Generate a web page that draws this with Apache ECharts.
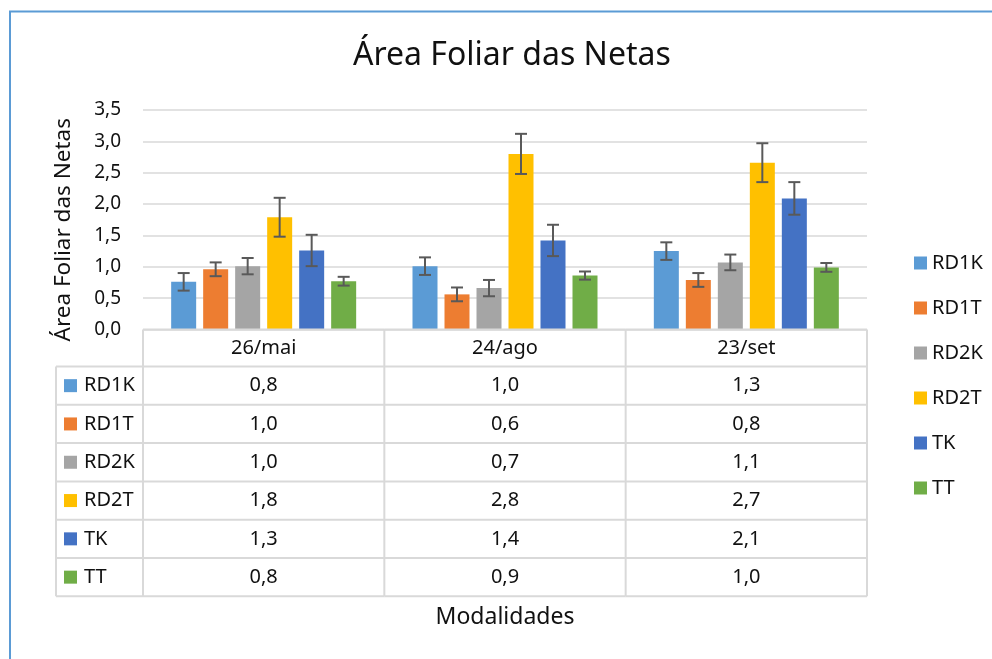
<!DOCTYPE html>
<html>
<head>
<meta charset="utf-8">
<script src="https://cdn.jsdelivr.net/npm/echarts@6/dist/echarts.min.js"></script>
<style>
  html, body { margin: 0; padding: 0; background: #fff; }
  #chart { width: 992px; height: 659px; }
</style>
</head>
<body>
<div id="chart"></div>
<script>
const categories = ['26/mai', '24/ago', '23/set'];
const seriesNames = ['RD1K', 'RD1T', 'RD2K', 'RD2T', 'TK', 'TT'];
const colors = ['#5b9bd5', '#ed7d31', '#a5a5a5', '#ffc000', '#4472c4', '#70ad47'];

const rd1k = [0.76, 1.01, 1.25];
const rd1t = [0.96, 0.56, 0.79];
const rd2k = [1.01, 0.66, 1.07];
const rd2t = [1.79, 2.80, 2.66];
const tk   = [1.26, 1.42, 2.09];
const tt   = [0.77, 0.86, 0.99];

const rd1kErr = [0.14, 0.14, 0.14];
const rd1tErr = [0.11, 0.11, 0.11];
const rd2kErr = [0.13, 0.13, 0.125];
const rd2tErr = [0.31, 0.32, 0.31];
const tkErr   = [0.25, 0.25, 0.26];
const ttErr   = [0.07, 0.065, 0.07];

const yTicks = [0, 0.5, 1, 1.5, 2, 2.5, 3, 3.5];

const values = [rd1k, rd1t, rd2k, rd2t, tk, tt];
const errors = [rd1kErr, rd1tErr, rd2kErr, rd2tErr, tkErr, ttErr];

const FONT = 'Noto Sans';
const BAR_W = 25;
const BAR_STEP = 32;
const HEADER_H = 37;
const ROW_H = 38.3;
const LEFT_COL_W = 87;
const LINE = '#d9d9d9';

const fmt = v => v.toFixed(1).replace('.', ',');

const chart = echarts.init(document.getElementById('chart'));

const barSeries = seriesNames.map((name, i) => ({
  name: name,
  type: 'bar',
  barWidth: BAR_W,
  barGap: '28%',
  itemStyle: { color: colors[i] },
  data: values[i]
}));

const errorSeries = seriesNames.map((name, i) => ({
  type: 'custom',
  z: 5,
  data: values[i].map((v, j) => [j, v, errors[i][j]]),
  encode: { x: 0, y: 1 },
  renderItem: (params, api) => {
    const idx = api.value(0);
    const v = api.value(1);
    const e = api.value(2);
    const x = api.coord([idx, v])[0] + (i - 2.5) * BAR_STEP;
    const yTop = api.coord([idx, v + e])[1];
    const yBot = api.coord([idx, v - e])[1];
    const style = { stroke: '#595959', lineWidth: 2 };
    return {
      type: 'group',
      children: [
        { type: 'line', shape: { x1: x, y1: yTop, x2: x, y2: yBot }, style },
        { type: 'line', shape: { x1: x - 6, y1: yTop, x2: x + 6, y2: yTop }, style },
        { type: 'line', shape: { x1: x - 6, y1: yBot, x2: x + 6, y2: yBot }, style }
      ]
    };
  }
}));

// data table under the plot, one column per category
const tableSeries = {
  type: 'custom',
  z: 3,
  silent: true,
  data: categories.map((c, j) => [j, 0]),
  encode: { x: 0, y: 1 },
  renderItem: (params, api) => {
    const idx = api.value(0);
    const c = api.coord([idx, 0]);
    const bw = api.size([1, 0])[0];
    const x0 = c[0] - bw / 2;
    const x1 = c[0] + bw / 2;
    const y0 = c[1];
    const yEnd = y0 + HEADER_H + ROW_H * seriesNames.length;
    const ls = { stroke: LINE, lineWidth: 2 };
    const txt = { fill: '#111', fontSize: 20, fontFamily: FONT, align: 'center', verticalAlign: 'middle' };
    const kids = [];
    kids.push({ type: 'line', shape: { x1: x0, y1: y0, x2: x1, y2: y0 }, style: ls });
    kids.push({ type: 'line', shape: { x1: x1, y1: y0, x2: x1, y2: yEnd }, style: ls });
    if (idx === 0) {
      kids.push({ type: 'line', shape: { x1: x0, y1: y0, x2: x0, y2: yEnd }, style: ls });
      const lx = x0 - LEFT_COL_W;
      kids.push({ type: 'line', shape: { x1: lx, y1: y0 + HEADER_H, x2: lx, y2: yEnd }, style: ls });
      seriesNames.forEach((name, r) => {
        const yc = y0 + HEADER_H + ROW_H * (r + 0.5);
        kids.push({ type: 'rect', shape: { x: lx + 8, y: yc - 6.5, width: 13, height: 13 }, style: { fill: colors[r] } });
        kids.push({ type: 'text', style: Object.assign({}, txt, { x: lx + 28, y: yc, text: name, align: 'left' }) });
      });
      for (let r = 0; r <= seriesNames.length; r++) {
        const yy = y0 + HEADER_H + ROW_H * r;
        kids.push({ type: 'line', shape: { x1: lx, y1: yy, x2: x0, y2: yy }, style: ls });
      }
    }
    kids.push({ type: 'text', style: Object.assign({}, txt, { x: c[0], y: y0 + HEADER_H / 2, text: categories[idx] }) });
    for (let r = 0; r <= seriesNames.length; r++) {
      const yy = y0 + HEADER_H + ROW_H * r;
      kids.push({ type: 'line', shape: { x1: x0, y1: yy, x2: x1, y2: yy }, style: ls });
    }
    seriesNames.forEach((name, r) => {
      const yc = y0 + HEADER_H + ROW_H * (r + 0.5);
      kids.push({ type: 'text', style: Object.assign({}, txt, { x: c[0], y: yc, text: fmt(values[r][idx]) }) });
    });
    return { type: 'group', children: kids };
  }
};

const option = {
  backgroundColor: '#fff',
  animation: false,
  textStyle: { fontFamily: FONT },
  title: {
    text: 'Área Foliar das Netas',
    left: 348,
    top: 35,
    textStyle: { fontSize: 32, fontWeight: 'normal', color: '#111', fontFamily: FONT }
  },
  legend: {
    data: seriesNames,
    orient: 'vertical',
    left: 909,
    top: 248,
    itemWidth: 13,
    itemHeight: 13,
    itemGap: 25,
    icon: 'rect',
    textStyle: { fontSize: 20, lineHeight: 19, color: '#111', fontFamily: FONT }
  },
  grid: { left: 143, right: 125, top: 110, bottom: 329.5 },
  xAxis: {
    type: 'category',
    data: categories,
    axisLine: { show: false },
    axisTick: { show: false },
    axisLabel: { show: false },
    name: 'Modalidades',
    nameLocation: 'middle',
    nameGap: 276,
    nameTextStyle: { fontSize: 23, color: '#111', fontFamily: FONT }
  },
  yAxis: {
    type: 'value',
    min: yTicks[0],
    max: yTicks[yTicks.length - 1],
    interval: 0.5,
    axisLine: { show: false },
    axisTick: { show: false },
    axisLabel: { formatter: v => fmt(v), fontSize: 19, color: '#111', margin: 22, fontFamily: FONT },
    splitLine: { lineStyle: { color: LINE, width: 1.5 } },
    name: 'Área Foliar das Netas',
    nameLocation: 'middle',
    nameGap: 68,
    nameTextStyle: { fontSize: 22.5, color: '#111', fontFamily: FONT, padding: [0, 20, 0, 0] }
  },
  graphic: [{
    type: 'polyline',
    silent: true,
    shape: { points: [[10, 659], [10, 11.5], [992, 11.5]] },
    style: { stroke: '#5b9bd5', lineWidth: 2, fill: null }
  }],
  series: barSeries.concat(errorSeries, [tableSeries])
};

chart.setOption(option);
</script>
</body>
</html>
